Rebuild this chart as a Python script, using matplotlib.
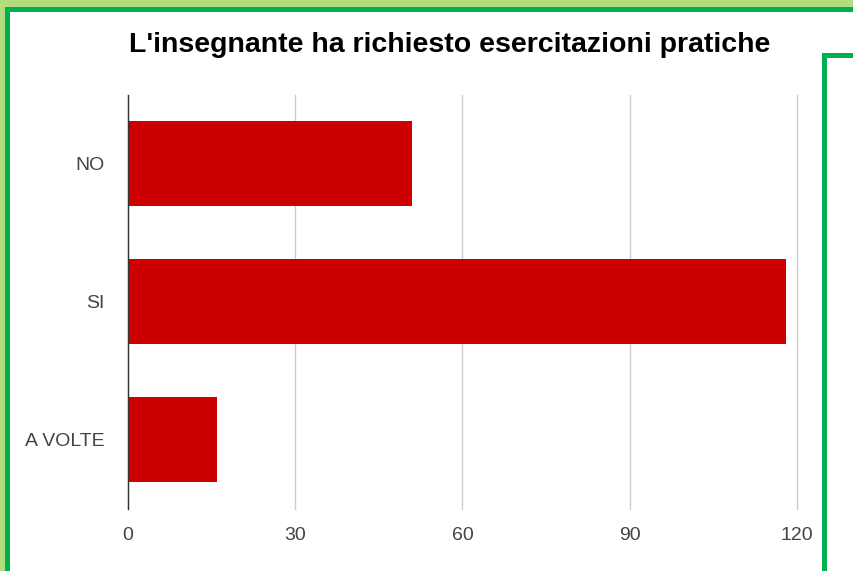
import matplotlib
matplotlib.use("Agg")
import matplotlib.pyplot as plt
from matplotlib.patches import Rectangle

categories = ["NO", "SI", "A VOLTE"]
values = [51, 118, 16]
x_ticks = [0, 30, 60, 90, 120]
title = "L'insegnante ha richiesto esercitazioni pratiche"

plt.rcParams['font.family'] = ['Liberation Sans', 'DejaVu Sans']

W, H = 854, 571
fig = plt.figure(figsize=(W / 100, H / 100), dpi=100)
fig.patch.set_facecolor("white")

def px_rect(x0, y0, x1, y1, color):
    # rectangle given in pixel coordinates measured from the top-left corner
    fig.patches.append(Rectangle((x0 / W, 1 - y1 / H), (x1 - x0) / W, (y1 - y0) / H,
                                 transform=fig.transFigure, color=color, lw=0, zorder=0))

light_green = "#b0dd7e"
dark_green = "#00b050"
px_rect(0, 0, W, 7, light_green)
px_rect(0, 0, 5, H, light_green)
px_rect(5, 7, W, 12, dark_green)
px_rect(5, 7, 10, H, dark_green)
px_rect(822, 53, W, 58, dark_green)
px_rect(822, 53, 827, H, dark_green)

ax = fig.add_axes([128 / W, 1 - 508.5 / H, (797 - 128) / W, 414 / H])
ypos = list(range(len(categories)))
ax.barh(ypos, values, height=0.616, color="#cc0000", zorder=3)
ax.set_ylim(len(categories) - 0.5, -0.5)
ax.set_xlim(0, 120)
ax.set_yticks(ypos)
ax.set_yticklabels(categories)
ax.set_xticks(x_ticks)
ax.set_xticklabels([str(t) for t in x_ticks])
ax.tick_params(axis="both", length=0, labelsize=14, colors="#444444")
ax.tick_params(axis="y", pad=17)
ax.tick_params(axis="x", pad=13)
ax.grid(axis="x", color="#cccccc", lw=1, zorder=0)
for gl in ax.get_xgridlines():
    gl.set_clip_on(False)
for s in ["top", "right", "bottom"]:
    ax.spines[s].set_visible(False)
ax.spines["left"].set_color("#333333")
ax.spines["left"].set_linewidth(1)
ax.spines["left"].set_zorder(4)
ax.set_facecolor("white")

fig.text(450 / W, 1 - 45 / H, title, ha="center", va="center",
         fontsize=20.5, fontweight="bold", color="#000000")

fig.savefig("out.png", dpi=100)
